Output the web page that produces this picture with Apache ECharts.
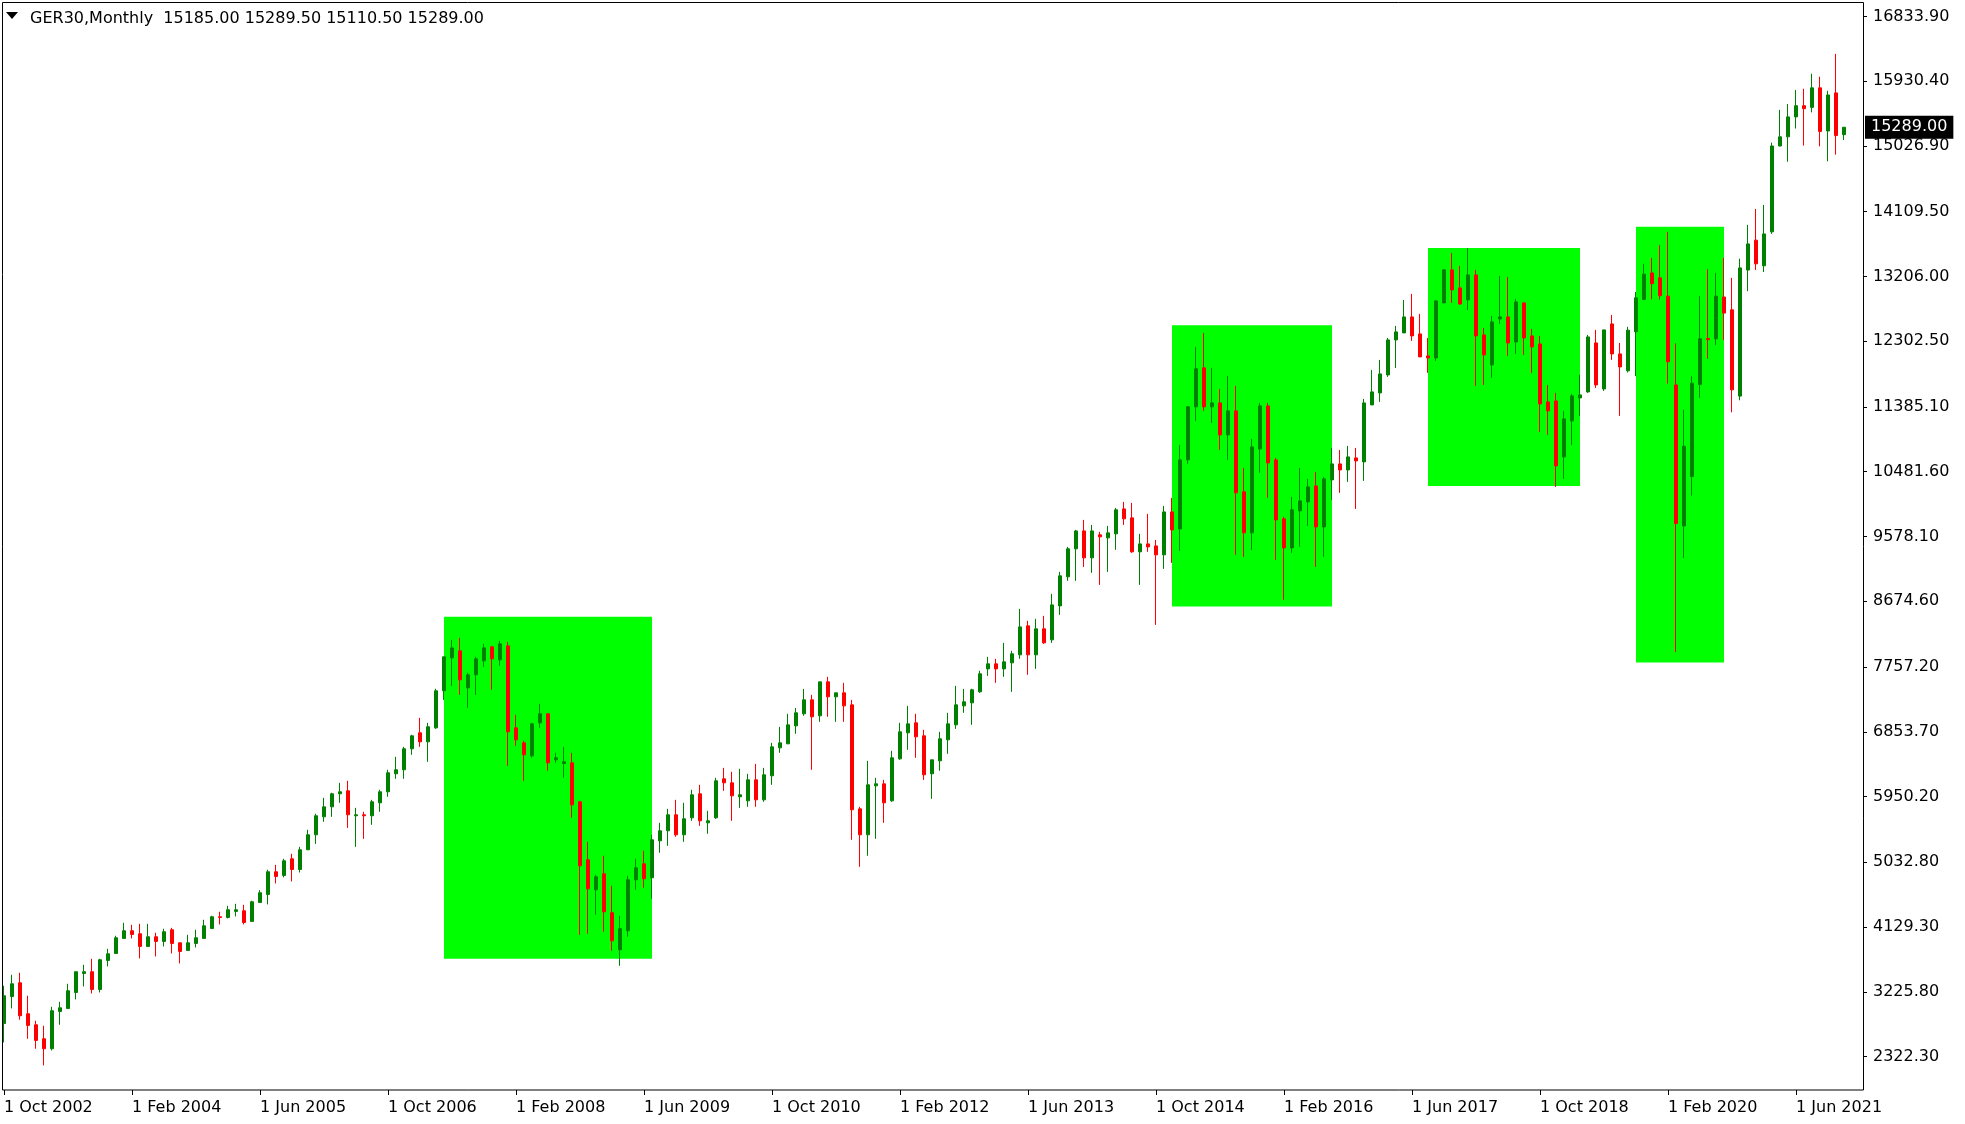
<!DOCTYPE html>
<html><head><meta charset="utf-8">
<script src="https://cdn.jsdelivr.net/npm/echarts@6/dist/echarts.min.js"></script>
<style>html,body{margin:0;padding:0;background:#fff}#c{width:1965px;height:1124px}</style>
</head><body><div id="c"></div>
<script>
const symbolName = 'GER30,Monthly';
const lastBar = ['15185.00', '15289.50', '15110.50', '15289.00'];
const startYear = 2002, startMonthIndex = 9; // October 2002
const monthNames = ['Jan','Feb','Mar','Apr','May','Jun','Jul','Aug','Sep','Oct','Nov','Dec'];

const opens = [2784,3160,3351,2919,2765,2570,2431,2951,2993,3216,
3481,3505,3258,3663,3760,3970,4077,4035,3858,3993,
3928,4091,3909,3802,3900,3970,4109,4272,4263,4347,
4356,4207,4472,4584,4900,4849,5081,4932,5207,5416,
5667,5806,5988,6030,5681,5695,5681,5862,6016,6267,
6323,6616,6839,6713,6908,7425,7885,7983,7466,7648,
7843,8038,7857,8052,6908,6699,6518,6978,7104,6462,
6411,6420,5876,5067,4649,4872,4328,3812,4077,4788,
5011,4816,5332,5472,5695,5416,5653,5988,5583,5653,
6197,6141,5946,5890,6183,5904,6239,6629,6685,6936,
7104,7299,7076,7550,7341,7397,7229,5778,5416,6099,
6127,5890,6476,6839,6978,6797,6267,6448,6741,6950,
7215,7257,7411,7731,7801,7731,7815,7927,8331,7927,
8290,8136,8610,9015,9406,9656,9280,9601,9559,9615,
9963,9838,9364,9475,9447,9322,9921,9684,10647,11387,
11931,11387,11442,10996,11331,10201,9629,10800,11400,10647,
9824,9419,9936,10061,10284,9712,10368,10591,10507,10675,
10619,11414,11582,11833,12321,12419,12642,12405,12098,12070,
12837,13298,13047,12879,13228,12391,11972,12614,12642,12293,
12837,12377,12265,11456,11470,10689,11191,11512,11596,12279,
11637,12544,12126,11890,12434,12886,13256,13187,12932,11693,
9725,10414,11699,12341,12336,12920,12741,11537,13296,13713,
13355,13829,15027,15155,15433,15589,15566,15838,15236,15768,
15185];
const closes = [3170,3337,2891,2756,2547,2431,2961,3002,3240,3505,
3505,3258,3672,3756,3979,4077,4025,3858,3993,3928,
4063,3900,3788,3909,3979,4146,4272,4263,4370,4370,
4193,4481,4607,4900,4835,5053,4932,5207,5416,5681,
5806,5988,6016,5695,5695,5681,5876,6016,6281,6323,
6616,6797,6713,6923,7425,7899,8024,7578,7648,7871,
8024,7871,8080,6853,6741,6532,6964,7104,6420,6490,
6434,5834,4983,4662,4830,4342,3937,4105,4788,4955,
4802,5346,5472,5695,5416,5639,5974,5611,5611,6169,
6141,5960,5974,6183,5904,6253,6643,6699,6950,7118,
7299,7062,7550,7341,7397,7215,5765,5416,6113,6127,
5862,6490,6853,6964,6783,6253,6462,6755,6964,7229,
7271,7439,7662,7801,7731,7829,7941,8317,7927,8290,
8094,8624,9029,9406,9656,9280,9656,9573,9629,9950,
9824,9364,9475,9433,9322,9921,9670,10647,11387,11917,
11387,11442,10996,11331,10187,9629,10828,11400,10605,9810,
9419,9950,10075,10270,9712,10382,10591,10507,10689,10633,
11442,11596,11847,12321,12433,12642,12377,12084,12070,12865,
13298,13019,12823,13228,12377,12112,12572,12642,12279,12851,
12349,12223,11428,11331,10563,11219,11540,11554,12363,11693,
12461,12126,11944,12457,12909,13239,13106,12938,12017,9760,
10837,11717,12336,12324,12932,12695,11624,13326,13661,13383,
13800,15027,15155,15433,15589,15548,15838,15230,15739,15172,
15289];
const lows = [2519,2993,2835,2570,2431,2198,2407,2765,2993,3119,
3300,3202,3216,3579,3760,3965,3970,3691,3858,3719,
3858,3760,3621,3802,3844,3970,4109,4165,4249,4277,
4165,4207,4472,4444,4737,4821,4765,4890,5207,5290,
5597,5667,5862,5513,5248,5360,5555,5737,5946,6197,
6197,6532,6643,6434,6894,7299,7494,7369,7188,7369,
7759,7439,7773,6378,6657,6169,6490,6908,6309,6420,
6211,5653,4021,4035,4300,4063,3798,3588,3993,4649,
4676,4523,5165,5262,5388,5318,5611,5541,5430,5639,
6030,5611,5792,5806,5806,5876,6113,6560,6685,6825,
7076,6323,6992,7062,6992,6992,5346,4969,5123,5360,
5583,5876,6462,6601,6490,6183,5918,6309,6546,6894,
7118,6950,7397,7634,7536,7620,7411,7871,7648,7731,
8080,8094,8485,8959,8959,9154,9071,8903,9085,9392,
9740,9350,8903,9364,8345,9126,9210,9378,10591,11191,
11330,11163,10786,10647,9322,9294,9392,10466,10117,9252,
8694,9350,9433,9726,9154,9294,10089,10187,10340,9963,
10354,11414,11456,11805,11930,12419,12307,12084,11861,12028,
12837,12837,12809,12739,11679,11693,11791,12544,12098,12126,
12112,11861,11038,10996,10270,10382,10856,11261,11582,11651,
11609,12042,11261,11867,11815,12874,12886,12886,11711,7966,
9280,10148,11514,12058,12249,12318,11311,11479,13001,13297,
13268,13800,15021,14807,15270,15033,15496,15022,14813,14906,
15110.5];
const highs = [3309,3463,3491,3170,2821,2751,3016,3086,3337,3505,
3602,3686,3686,3825,4007,4188,4160,4174,4174,4049,
4105,4118,3909,4021,4091,4230,4286,4342,4425,4453,
4439,4495,4644,4928,4997,5081,5151,5248,5486,5709,
5932,6002,6141,6169,5792,5737,5904,6044,6323,6504,
6643,6811,7048,6978,7453,7899,8136,8164,7676,7899,
8080,8052,8122,8108,7090,6727,6978,7243,7113,6560,
6643,6560,5890,5318,4858,5123,4704,4286,4844,5081,
5193,5416,5583,5778,5904,5862,6044,6113,5750,6211,
6350,6295,6337,6267,6406,6350,6699,6922,7104,7187,
7452,7369,7550,7620,7397,7536,7299,5806,6448,6211,
6183,6588,6978,7215,7104,6880,6462,6853,7118,7494,
7452,7453,7704,7899,7871,8094,7983,8568,8401,8429,
8471,8778,9085,9433,9670,9810,9740,9643,9726,9977,
10061,10047,9615,9894,9531,10005,10117,10856,11400,12223,
12419,11931,11637,11819,11679,10535,10940,11442,11442,10675,
9852,10131,10535,10382,10479,10410,10814,10786,10842,10814,
11498,11902,12042,12349,12516,12879,12963,12684,12349,12879,
13311,13535,13353,13604,13298,12488,12656,13214,13200,12893,
12851,12474,12377,11693,11582,11331,11568,11833,12391,12461,
12461,12670,12279,12504,12990,13383,13465,13644,13829,12272,
11346,11815,12932,13308,13256,13465,13187,13454,13927,14148,
14205,15074,15531,15612,15809,15826,16035,15994,15797,16312,
15289.5];

const yTickLabels = ['16833.90','15930.40','15026.90','14109.50','13206.00','12302.50','11385.10','10481.60','9578.10','8674.60','7757.20','6853.70','5950.20','5032.80','4129.30','3225.80','2322.30'];

// highlighted zones: [first bar index, last bar index, top price, bottom price]
const zones = [
  [55, 81, 8457, 3686],
  [146, 166, 12525, 8601],
  [178, 197, 13604, 10284],
  [204, 215, 13899, 7821]
];

const categories = [];
for (let i = 0; i < opens.length; i++) {
  const m = startMonthIndex + i;
  categories.push('1 ' + monthNames[m % 12] + ' ' + (startYear + Math.floor(m / 12)));
}
const candleData = opens.map((o, i) => [o, closes[i], lows[i], highs[i]]);
const tickValues = yTickLabels.map(Number);

const FONT = 'DejaVu Sans';
const FS = 16;
const chart = echarts.init(document.getElementById('c'), null, {renderer: 'canvas'});
chart.setOption({
  animation: false,
  backgroundColor: '#ffffff',
  textStyle: {fontFamily: FONT},
  grid: {left: 0, right: 117, top: 2, bottom: 34, containLabel: false},
  xAxis: {
    type: 'category',
    data: categories,
    boundaryGap: true,
    axisLine: {show: false},
    axisTick: {show: true, alignWithLabel: true, interval: 15, length: 5, lineStyle: {color: '#000'}},
    axisLabel: {show: true, interval: 15, align: 'left', margin: 10, color: '#000', fontFamily: FONT, fontSize: FS, hideOverlap: false},
    splitLine: {show: false}
  },
  yAxis: {
    type: 'value',
    position: 'right',
    offset: 15,
    min: 1855,
    max: 17036,
    scale: true,
    axisLine: {show: false},
    axisTick: {show: true, length: 4, customValues: tickValues, lineStyle: {color: '#000'}},
    axisLabel: {
      show: true, margin: 10, color: '#000', fontFamily: FONT, fontSize: FS,
      padding: [5, 0, 0, 0],
      customValues: tickValues,
      formatter: function (v) {
        let best = 0, bd = Infinity;
        tickValues.forEach((t, k) => { const d = Math.abs(t - v); if (d < bd) { bd = d; best = k; } });
        return yTickLabels[best];
      }
    },
    splitLine: {show: false}
  },
  series: [
    {
      type: 'line',
      data: [],
      z: 1,
      silent: true,
      markArea: {
        silent: true,
        itemStyle: {color: '#00ff00', opacity: 1, borderWidth: 0},
        data: zones.map(z => [
          {xAxis: categories[z[0]], yAxis: z[2]},
          {xAxis: categories[z[1]], yAxis: z[3]}
        ])
      }
    },
    {
      type: 'candlestick',
      data: candleData,
      z: 5,
      clip: false,
      barWidth: 4,
      itemStyle: {
        color: '#008000', color0: '#ff0000',
        borderColor: '#008000', borderColor0: '#ff0000',
        borderWidth: 1
      },
      markLine: {
        silent: true,
        symbol: ['none', 'none'],
        lineStyle: {color: 'rgba(0,0,0,0)', width: 1},
        data: [{yAxis: Number(lastBar[3])}],
        label: {
          show: true, position: 'end', distance: 17,
          formatter: lastBar[3],
          color: '#ffffff', backgroundColor: '#000000',
          padding: [5, 6, 2, 6], fontFamily: FONT, fontSize: FS
        }
      }
    }
  ],
  graphic: [
    {type: 'rect', silent: true, z: 10,
     shape: {x: 2.5, y: 2.5, width: 1861, height: 1087.5},
     style: {fill: 'none', stroke: '#000', lineWidth: 1}},
    {type: 'polygon', silent: true, z: 10,
     shape: {points: [[6, 12], [18, 12], [12, 19]]},
     style: {fill: '#000'}},
    {type: 'text', silent: true, z: 10, x: 30, y: 18.5,
     style: {text: symbolName + '  ' + lastBar.join(' '), fill: '#000', font: FS + 'px "DejaVu Sans"', textVerticalAlign: 'middle'}}
  ]
});
</script>
</body></html>
